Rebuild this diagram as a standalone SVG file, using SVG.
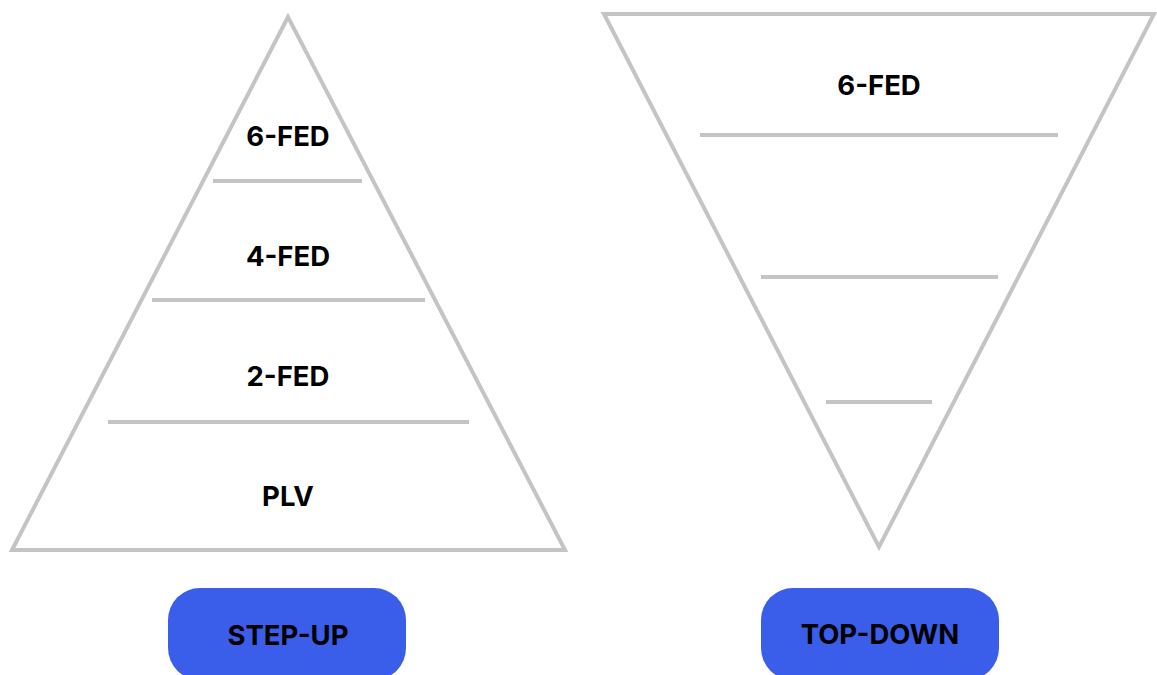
<svg xmlns="http://www.w3.org/2000/svg" width="1157" height="675" viewBox="0 0 1157 675">
<style>
.shape{fill:none;stroke:#c4c4c4;stroke-width:4}
.div{stroke:#c4c4c4;stroke-width:4}
.lbl{font-family:Inter,"Liberation Sans",sans-serif;font-weight:700;font-size:27.5px;fill:#000;text-anchor:middle}
.btn{fill:#3a5ee9}
</style>
<rect width="1157" height="675" fill="#fff"/>
<g id="pyramid">
<polygon class="shape" points="288,17 12,550 565,550"/>
</g>
<g id="funnel">
<polygon class="shape" points="604,14 1154,14 879,547"/>
</g>
<g id="connectors">
<line class="div" x1="213" y1="181" x2="362" y2="181"/>
<line class="div" x1="152" y1="300" x2="425" y2="300"/>
<line class="div" x1="108" y1="422" x2="469" y2="422"/>
<line class="div" x1="700" y1="135" x2="1058" y2="135"/>
<line class="div" x1="761" y1="277" x2="998" y2="277"/>
<line class="div" x1="826" y1="402" x2="932" y2="402"/>
</g>
<g id="label-6fed-left"><text class="lbl" x="288" y="146">6-FED</text></g>
<g id="label-4fed"><text class="lbl" x="288" y="266">4-FED</text></g>
<g id="label-2fed"><text class="lbl" x="288" y="386">2-FED</text></g>
<g id="label-plv"><text class="lbl" x="288" y="506">PLV</text></g>
<g id="label-6fed-right"><text class="lbl" x="879" y="95">6-FED</text></g>
<g id="btn-stepup">
<rect class="btn" x="168" y="588" width="238" height="92" rx="32"/>
<text class="lbl" x="288" y="645">STEP-UP</text>
</g>
<g id="btn-topdown">
<rect class="btn" x="761" y="588" width="238" height="92" rx="32"/>
<text class="lbl" x="880" y="644">TOP-DOWN</text>
</g>
</svg>
